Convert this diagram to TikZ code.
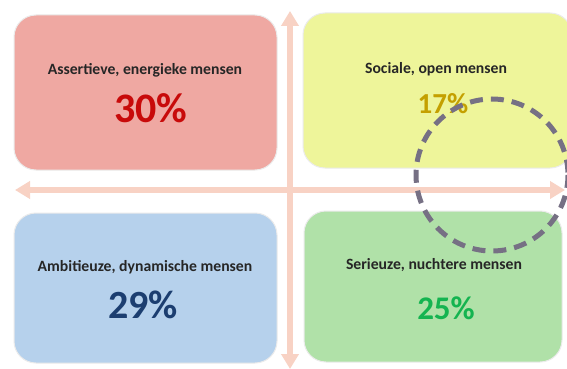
\documentclass[tikz,border=0pt]{standalone}
\usepackage{fontspec}
\setmainfont{Carlito}
\usetikzlibrary{arrows.meta}
\definecolor{redbox}{RGB}{239,168,162}
\definecolor{yelbox}{RGB}{238,245,154}
\definecolor{bluebox}{RGB}{182,209,236}
\definecolor{greenbox}{RGB}{176,225,168}
\definecolor{axiscol}{RGB}{248,210,196}
\definecolor{redtxt}{RGB}{200,10,10}
\definecolor{goldtxt}{RGB}{196,160,0}
\definecolor{bluetxt}{RGB}{28,62,112}
\definecolor{greentxt}{RGB}{20,180,80}
\definecolor{circcol}{RGB}{118,112,132}
\tikzset{
  quad/.style={draw=black!8, line width=1pt, rounded corners=22pt},
  lbl/.style={font=\bfseries\fontsize{15.7}{17}\selectfont, text=black!85, inner sep=0pt},
  pct/.style={font=\bfseries, inner sep=0pt},
  axis/.style={draw=axiscol, line width=6pt, {Triangle[width=17pt,length=15pt]}-{Triangle[width=17pt,length=15pt]}},
}
\begin{document}
\begin{tikzpicture}[x=1pt,y=-1pt]
\useasboundingbox (0,0) rectangle (567,369);
\fill[white] (0,0) rectangle (567,369);
\path[quad, fill=redbox] (14,15) rectangle (277,170);
\path[quad, fill=yelbox] (303,13) rectangle (572,168);
\path[quad, fill=bluebox] (14,213) rectangle (277,363);
\path[quad, fill=greenbox] (304,211) rectangle (562,362);
\coordinate (vb) at (290,369);
\coordinate (vt) at (290,11);
\coordinate (hr) at (565,190);
\coordinate (hl) at (15,190);
\draw[axis] (hl) -- (hr);
\draw[axis] (vb) -- (vt);
\node[lbl] (l1) at (145,70) {Assertieve, energieke mensen};
\node[pct, text=redtxt, font=\bfseries\fontsize{42}{44}\selectfont] (p1) at (151,108) {30\%};
\node[lbl] (l2) at (436,69) {Sociale, open mensen};
\node[pct, text=goldtxt, font=\bfseries\fontsize{29}{31}\selectfont] (p2) at (443,104) {17\%};
\node[lbl] (l3) at (145,267) {Ambitieuze, dynamische mensen};
\node[pct, text=bluetxt, font=\bfseries\fontsize{40}{42}\selectfont] (p3) at (143,305) {29\%};
\node[lbl] (l4) at (434,265) {Serieuze, nuchtere mensen};
\node[pct, text=greentxt, font=\bfseries\fontsize{33}{35}\selectfont] (p4) at (446,308) {25\%};
\draw[circcol, line width=5pt, dash pattern=on 13pt off 8pt] (492,175) circle (76);
\end{tikzpicture}
\end{document}
